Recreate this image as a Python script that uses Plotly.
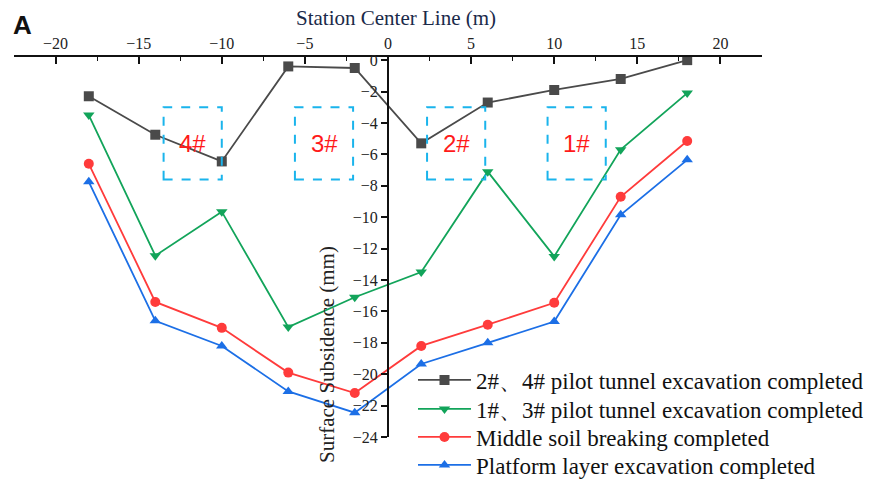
import plotly.graph_objects as go

x_pos = [-18, -14, -10, -6, -2, 2, 6, 10, 14, 18]
s_24 = [-2.3, -4.75, -6.45, -0.4, -0.5, -5.3, -2.7, -1.9, -1.2, 0.0]
s_13 = [-3.5, -12.45, -9.65, -17.0, -15.1, -13.5, -7.1, -12.5, -5.7, -2.1]
s_mid = [-6.6, -15.4, -17.05, -19.9, -21.2, -18.2, -16.85, -15.45, -8.7, -5.15]
s_plat = [-7.75, -16.6, -18.2, -21.1, -22.45, -19.35, -18.0, -16.65, -9.85, -6.35]

names = ["2#、4# pilot tunnel excavation completed",
         "1#、3# pilot tunnel excavation completed",
         "Middle soil breaking completed",
         "Platform layer excavation completed"]

box_labels = ["4#", "3#", "2#", "1#"]
box_x0 = [-13.5, -5.6, 2.35, 9.6]
box_x1 = [-10.0, -2.1, 5.85, 13.1]
box_y0 = -7.6
box_y1 = -3.0

colors = ["#4a4a4a", "#12a45a", "#ff3b3b", "#1c6fe6"]
symbols = ["square", "triangle-down", "circle", "triangle-up"]
legend_ids = ["legend", "legend2", "legend3", "legend4"]
legend_rows_px = [380, 409, 437, 465]

fig = go.Figure()
for ys, nm, c, s, lg in zip([s_24, s_13, s_mid, s_plat], names, colors, symbols, legend_ids):
    fig.add_trace(go.Scatter(x=x_pos, y=ys, name=nm, mode="lines+markers", legend=lg,
                             line=dict(color=c, width=1.8),
                             marker=dict(color=c, symbol=s, size=10)))

for lab, a, b in zip(box_labels, box_x0, box_x1):
    fig.add_shape(type="rect", x0=a, x1=b, y0=box_y0, y1=box_y1, xref="x", yref="y",
                  line=dict(color="#1ab4ec", width=2, dash="dash"))
    fig.add_annotation(x=(a + b) / 2, y=(box_y0 + box_y1) / 2, text=lab, showarrow=False,
                       font=dict(family="Liberation Sans, Arial", size=24, color="#ff1a1a"))

serif = "Liberation Serif, Times New Roman, serif"
PL, PR, PT, PB = 14, 110, 57, 43
PW, PH = 872 - PL - PR, 480 - PT - PB

legend_layout = {}
for lg, row in zip(legend_ids, legend_rows_px):
    legend_layout[lg] = dict(x=(413 - PL) / PW, y=(480 - PB - row) / PH, xanchor="left", yanchor="middle",
                             font=dict(family=serif, size=23, color="#111"), bgcolor="rgba(0,0,0,0)",
                             itemwidth=53)

fig.update_layout(
    width=872, height=480,
    margin=dict(l=PL, r=PR, t=PT, b=PB, autoexpand=False),
    plot_bgcolor="white", paper_bgcolor="white",
    font=dict(family=serif, size=16, color="#222"),
    xaxis=dict(range=[-22.5, 22.5], side="top", anchor="y",
               tickvals=[-20, -15, -10, -5, 0, 5, 10, 15, 20],
               ticks="inside", ticklen=7, tickwidth=1.5, tickcolor="#111",
               minor=dict(dtick=2.5, tick0=0, ticks="inside", ticklen=4, tickwidth=1.2, tickcolor="#111"),
               showline=True, linecolor="#111", linewidth=2, showgrid=False, zeroline=False,
               tickfont=dict(family=serif, size=16, color="#222")),
    yaxis=dict(range=[-24, 0.2], anchor="free", position=0.5,
               tickvals=[0, -2, -4, -6, -8, -10, -12, -14, -16, -18, -20, -22, -24],
               ticks="outside", ticklen=6, tickwidth=1.5, tickcolor="#111",
               showline=True, linecolor="#111", linewidth=2, showgrid=False, zeroline=False,
               tickfont=dict(family=serif, size=16, color="#222")),
    showlegend=True,
    **legend_layout,
)

fig.add_annotation(text="Station Center Line (m)", showarrow=False, xref="paper", yref="paper",
                   x=(396 - PL) / PW, y=(480 - PB - 18) / PH, xanchor="center", yanchor="middle",
                   font=dict(family=serif, size=21, color="#1a2a4a"))
fig.add_annotation(text="Surface Subsidence (mm)", textangle=-90, showarrow=False,
                   xref="paper", yref="paper", x=(327 - PL) / PW, y=(480 - PB - 355) / PH,
                   xanchor="center", yanchor="middle",
                   font=dict(family=serif, size=21, color="#222"))
fig.add_annotation(text="<b>A</b>", showarrow=False, xref="paper", yref="paper",
                   x=(22 - PL) / PW, y=(480 - PB - 25) / PH, xanchor="center", yanchor="middle",
                   font=dict(family="Liberation Sans, Arial", size=26, color="#111"))

fig.write_html("out.html")
